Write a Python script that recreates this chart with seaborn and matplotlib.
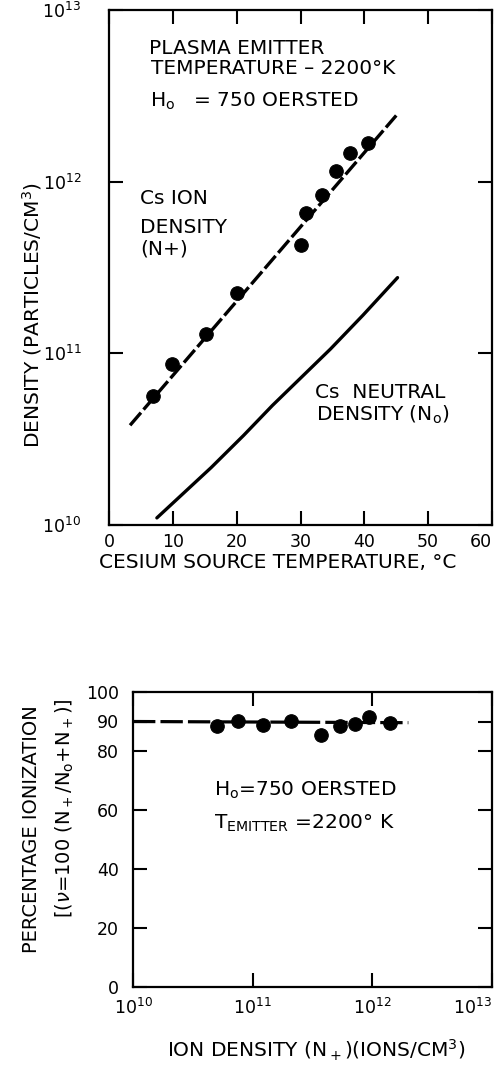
import matplotlib
matplotlib.use("Agg")
import matplotlib.pyplot as plt
import seaborn as sns

# PAINEL SUPERIOR: densidade x temperatura da fonte de cesio
temp_ion = [6.9, 9.9, 15.2, 20.0, 30.0, 30.9, 33.4, 35.5, 37.8, 40.5]
dens_ion = [5.66e10, 8.67e10, 1.29e11, 2.24e11, 4.28e11, 6.55e11, 8.32e11, 1.15e12, 1.47e12, 1.68e12]
temp_ion_fit = [3.3, 45.0]
dens_ion_fit = [3.81e10, 2.43e12]
temp_neutral = [7.5, 16.0, 21.1, 25.6, 34.7, 39.8, 45.2]
dens_neutral = [1.10e10, 2.16e10, 3.33e10, 4.97e10, 1.06e11, 1.67e11, 2.76e11]

temp_ticks = [0, 10, 20, 30, 40, 50, 60]
dens_ticks = [1e10, 1e11, 1e12, 1e13]

# PAINEL INFERIOR: ionizacao percentual x densidade ionica
ion_dens = [5.0e10, 7.5e10, 1.23e11, 2.1e11, 3.7e11, 5.4e11, 7.2e11, 9.3e11, 1.4e12]
pct_ion = [88.6, 90.1, 88.9, 90.1, 85.3, 88.6, 89.1, 91.4, 89.4]
ion_fit = [1e10, 2.0e12]
pct_fit = [90.0, 89.6]

pct_ticks = [0, 20, 40, 60, 80, 90, 100]
ion_ticks = [1e10, 1e11, 1e12, 1e13]

sns.set_theme(style="ticks")
plt.rcParams['font.family'] = ['DejaVu Sans']
plt.rcParams['mathtext.fontset'] = 'dejavusans'
for chave in ['text.color', 'axes.labelcolor', 'xtick.color', 'ytick.color', 'axes.edgecolor']:
    plt.rcParams[chave] = 'black'

W, H = 501, 1065
TAM = 14.5
fig = plt.figure(figsize=(W / 100, H / 100), dpi=100)


def estilo_eixo(ax):
    for s in ax.spines.values():
        s.set_linewidth(1.6)
    ax.tick_params(which='major', direction='in', length=10, width=1.5,
                   top=True, right=True, labelsize=12.5)
    ax.tick_params(which='minor', length=0)


def texto(px, py, s, size=TAM, **kw):
    fig.text(px / W, 1 - py / H, s, fontsize=size, va='center', **kw)


# painel 1
ax1 = fig.add_axes([109 / W, 1 - 525 / H, (492 - 109) / W, (525 - 10) / H])
sns.lineplot(x=temp_ion_fit, y=dens_ion_fit, ax=ax1, color='black', lw=2.4, estimator=None)
ax1.lines[-1].set_dashes([5, 1.2])
sns.lineplot(x=temp_neutral, y=dens_neutral, ax=ax1, color='black', lw=2.4, estimator=None)
sns.scatterplot(x=temp_ion, y=dens_ion, ax=ax1, color='black', s=95, edgecolor='black', zorder=5)
ax1.set_yscale('log')
ax1.set_xlim(0, 60)
ax1.set_ylim(1e10, 1e13)
ax1.set_xticks(temp_ticks)
ax1.set_yticks(dens_ticks)
estilo_eixo(ax1)
ax1.tick_params(axis='y', pad=20)
ax1.tick_params(axis='x', pad=6)
# o "60" encosta na borda direita da figura
ax1.get_xticklabels()[-1].set_horizontalalignment('right')
ax1.set_xlabel("CESIUM SOURCE TEMPERATURE, °C", fontsize=TAM, va='center')
ax1.xaxis.set_label_coords((278 - 109) / 383, (525 - 563) / 515)
ax1.set_ylabel("DENSITY (PARTICLES/CM$^3$)", fontsize=TAM, va='center')
ax1.yaxis.set_label_coords((32 - 109) / 383, (525 - 315) / 515)

texto(149, 48, "PLASMA EMITTER")
texto(151, 68, "TEMPERATURE – 2200°K")
texto(150, 101, "H$_\\mathregular{o}$   = 750 OERSTED")
texto(140, 199, "Cs ION")
texto(140, 228, "DENSITY")
texto(140, 249, "(N+)")
texto(315, 393, "Cs  NEUTRAL")
texto(316, 415, "DENSITY (N$_\\mathregular{o}$)")

# painel 2
ax2 = fig.add_axes([133 / W, 1 - 987 / H, (492 - 133) / W, (987 - 692) / H])
sns.lineplot(x=ion_fit, y=pct_fit, ax=ax2, color='black', lw=2.3, estimator=None)
ax2.lines[-1].set_dashes([7, 1.6])
sns.scatterplot(x=ion_dens, y=pct_ion, ax=ax2, color='black', s=95, edgecolor='black', zorder=5)
ax2.set_xscale('log')
ax2.set_xlim(1e10, 1e13)
ax2.set_ylim(0, 100)
ax2.set_xticks(ion_ticks)
ax2.set_yticks(pct_ticks)
estilo_eixo(ax2)
ax2.tick_params(axis='y', pad=10)
ax2.tick_params(axis='x', pad=8)
ax2.get_xticklabels()[-1].set_horizontalalignment('right')
ax2.set_xlabel("ION DENSITY (N$_+$)(IONS/CM$^3$)", fontsize=TAM, va='center')
ax2.xaxis.set_label_coords((316 - 133) / 359, (987 - 1050) / 295)
ax2.set_ylabel("PERCENTAGE IONIZATION", fontsize=14, va='center')
ax2.yaxis.set_label_coords((32 - 133) / 359, (987 - 829) / 295)
ax2.text((65 - 133) / 359, (987 - 808) / 295,
         "[($\\nu$=100 (N$_+$/N$_\\mathregular{o}$+N$_+$)]",
         transform=ax2.transAxes, rotation=90, fontsize=14, ha='center', va='center')

texto(214, 790, "H$_\\mathregular{o}$=750 OERSTED")
texto(214, 823, "T$_\\mathregular{EMITTER}$ =2200° K")

fig.savefig("out.png", dpi=100)
